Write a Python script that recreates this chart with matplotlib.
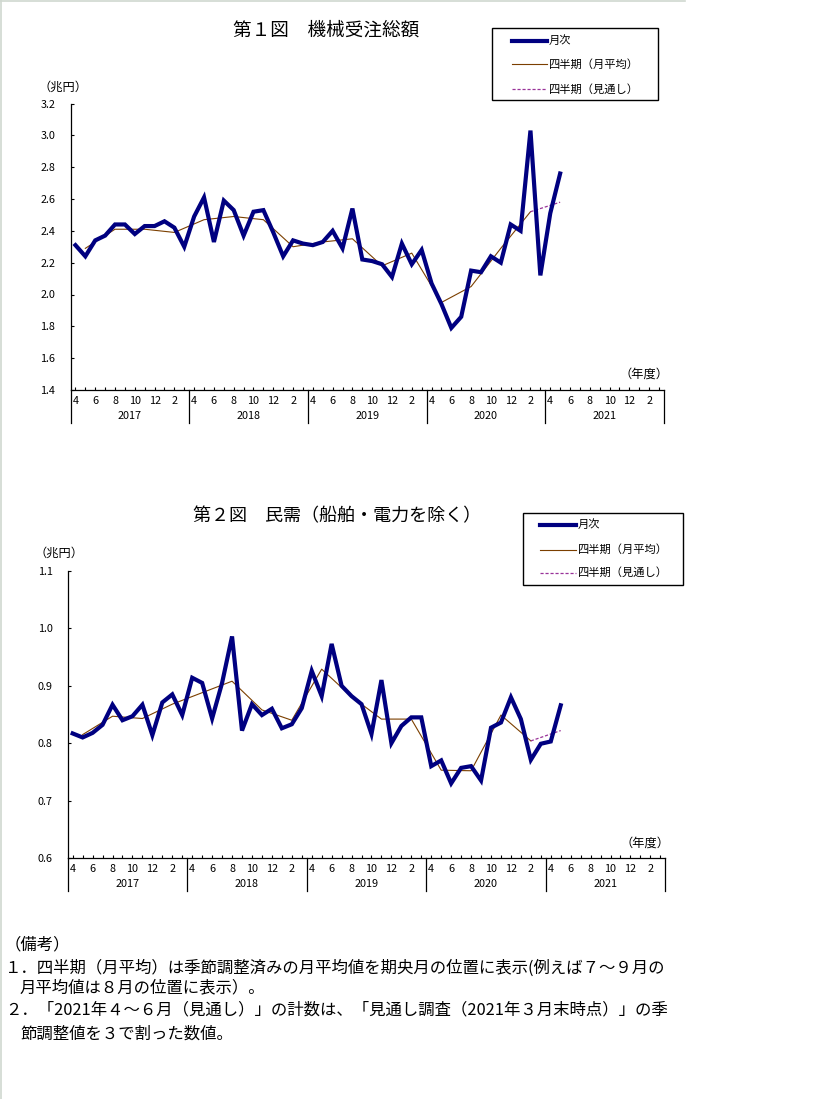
import matplotlib
matplotlib.use("Agg")
import matplotlib.pyplot as plt
import numpy as np
from matplotlib.lines import Line2D
from matplotlib.patches import Rectangle

plt.rcParams['font.family'] = ['Noto Sans CJK JP', 'DejaVu Sans']

# ---------------- data ----------------
fiscal_years = ['2017', '2018', '2019', '2020', '2021']
month_labels = ['4', '5', '6', '7', '8', '9', '10', '11', '12', '1', '2', '3']

# Chart 1: 機械受注総額 (兆円), monthly Apr 2017 - May 2021
monthly1 = [2.31, 2.24, 2.34, 2.37, 2.44, 2.44, 2.38, 2.43, 2.43, 2.46, 2.42, 2.30,
            2.49, 2.61, 2.33, 2.59, 2.53, 2.37, 2.52, 2.53, 2.39, 2.24, 2.34, 2.32,
            2.31, 2.33, 2.40, 2.29, 2.54, 2.22, 2.21, 2.19, 2.11, 2.32, 2.19, 2.28,
            2.07, 1.94, 1.79, 1.86, 2.15, 2.14, 2.24, 2.20, 2.44, 2.40, 3.03, 2.12,
            2.51, 2.76]
# quarterly monthly average, plotted at mid-month (May, Aug, Nov, Feb)
quarter1 = [2.29, 2.41, 2.41, 2.39, 2.47, 2.49, 2.47, 2.30,
            2.33, 2.35, 2.18, 2.26, 1.95, 2.05, 2.29, 2.52]
forecast1 = [2.52, 2.58]   # Feb 2021 -> May 2021 (見通し)

# Chart 2: 民需（船舶・電力を除く） (兆円)
monthly2 = [0.817, 0.810, 0.818, 0.832, 0.867, 0.840, 0.847, 0.867, 0.814, 0.871, 0.885, 0.849,
            0.914, 0.905, 0.843, 0.905, 0.986, 0.822, 0.868, 0.849, 0.860, 0.826, 0.833, 0.861,
            0.926, 0.882, 0.973, 0.900, 0.882, 0.868, 0.816, 0.910, 0.800, 0.830, 0.845, 0.845,
            0.760, 0.770, 0.730, 0.757, 0.760, 0.735, 0.827, 0.836, 0.880, 0.842, 0.771, 0.799,
            0.803, 0.866]
quarter2 = [0.815, 0.847, 0.843, 0.868, 0.888, 0.908, 0.858, 0.840,
            0.929, 0.881, 0.842, 0.842, 0.753, 0.752, 0.849, 0.804]
forecast2 = [0.804, 0.822]

legend_labels = ['月次', '四半期（月平均）', '四半期（見通し）']

NAVY = '#000080'
BROWN = '#7B3F00'
PURPLE = '#993399'

W, H = 819, 1099
fig = plt.figure(figsize=(W / 100, H / 100), dpi=100)


def fx(x):
    return x / W


def fy(y):
    return 1 - y / H


def axes_px(left, top, right, bottom):
    return fig.add_axes([fx(left), fy(bottom), (right - left) / W, (bottom - top) / H])


n_months = len(fiscal_years) * 12


def draw_chart(ax, monthly, quarter, forecast, ylim, ystep, ax_h_px):
    x_m = np.arange(len(monthly))
    x_q = np.arange(1, 1 + 3 * len(quarter), 3)
    x_f = [x_q[-1], x_q[-1] + 3]
    ax.plot(x_q, quarter, color=BROWN, lw=0.8, zorder=2)
    ax.plot(x_f, forecast, color=PURPLE, lw=0.9, ls=(0, (2.5, 1.5)), zorder=2)
    ax.plot(x_m, monthly, color=NAVY, lw=3.0, zorder=3, solid_joinstyle='miter')

    ax.set_xlim(-0.5, n_months - 0.5)
    ax.set_ylim(*ylim)
    yt = np.arange(ylim[0], ylim[1] + ystep / 2, ystep)
    ax.set_yticks(yt)
    ax.set_yticklabels([f'{v:.1f}' for v in yt])
    ax.set_xticks(np.arange(n_months))
    labs = []
    for i in range(n_months):
        m = month_labels[i % 12]
        labs.append(m if i % 2 == 0 else '')
    ax.set_xticklabels(labs)

    for s in ['top', 'right']:
        ax.spines[s].set_visible(False)
    for s in ['left', 'bottom']:
        ax.spines[s].set_linewidth(0.9)
    ax.tick_params(axis='y', direction='in', length=2.5, width=0.8, pad=11,
                   labelsize=7.8)
    ax.tick_params(axis='x', direction='in', length=2.2, width=0.8, pad=4,
                   labelsize=7.8)

    sep = 33 / ax_h_px
    for k in range(len(fiscal_years) + 1):
        ax.axvline(-0.5 + 12 * k, ymin=-sep, ymax=0, color='black', lw=0.9,
                   clip_on=False)
    trans = ax.get_xaxis_transform()
    for k, fyr in enumerate(fiscal_years):
        ax.text(12 * k + 5.5, -26 / ax_h_px, fyr, transform=trans, ha='center',
                va='center', fontsize=7.8)


def draw_legend(left, top, right, bottom, line_x0, line_x1, text_x, rows):
    fig.patches.append(Rectangle((fx(left), fy(bottom)), (right - left) / W,
                                 (bottom - top) / H, transform=fig.transFigure,
                                 fill=False, edgecolor='black', lw=1.0))
    styles = [dict(color=NAVY, lw=3.0), dict(color=BROWN, lw=0.8),
              dict(color=PURPLE, lw=0.9, ls=(0, (2.5, 1.5)))]
    for r, st, lab in zip(rows, styles, legend_labels):
        fig.lines.append(Line2D([fx(line_x0), fx(line_x1)], [fy(r), fy(r)],
                                transform=fig.transFigure, **st))
        fig.text(fx(text_x), fy(r), lab, ha='left', va='center', fontsize=8.1)


# ---------------- chart 1 ----------------
ax1 = axes_px(70.5, 103.5, 664, 390)
draw_chart(ax1, monthly1, quarter1, forecast1, (1.4, 3.2), 0.2, 390 - 103.5)
fig.text(fx(326.5), fy(31), '第１図　機械受注総額', ha='center', va='center',
         fontsize=13.4)
fig.text(fx(63), fy(87), '（兆円）', ha='center', va='center', fontsize=8.8)
fig.text(fx(643.5), fy(374), '（年度）', ha='center', va='center', fontsize=8.8)
draw_legend(491.7, 28.3, 658.3, 100, 512, 547, 549, [40.7, 64.3, 89.3])

# ---------------- chart 2 ----------------
ax2 = axes_px(67.7, 571, 665.3, 858)
draw_chart(ax2, monthly2, quarter2, forecast2, (0.6, 1.1), 0.1, 858 - 571)
fig.text(fx(337), fy(516), '第２図　民需（船舶・電力を除く）', ha='center', va='center',
         fontsize=13.0)
fig.text(fx(59), fy(553), '（兆円）', ha='center', va='center', fontsize=8.8)
fig.text(fx(645), fy(843), '（年度）', ha='center', va='center', fontsize=8.8)
draw_legend(523.3, 513.3, 683.3, 585.3, 540, 576, 578, [524.7, 549.5, 573])

# ---------------- notes ----------------
notes = [
    (5, 945, '（備考）'),
    (5, 968, '１．四半期（月平均）は季節調整済みの月平均値を期央月の位置に表示(例えば７～９月の'),
    (20, 988, '月平均値は８月の位置に表示）。'),
    (5, 1010, '２．「2021年４～６月（見通し）」の計数は、「見通し調査（2021年３月末時点）」の季'),
    (20, 1034, '節調整値を３で割った数値。'),
]
for x, y, t in notes:
    fig.text(fx(x), fy(y), t, ha='left', va='center', fontsize=11.8)

# faint page border
border = '#d0d8d0'
fig.lines.append(Line2D([fx(0.5), fx(0.5)], [0, 1], transform=fig.transFigure,
                        color=border, lw=1.2))
fig.lines.append(Line2D([0, fx(685)], [fy(0.5), fy(0.5)], transform=fig.transFigure,
                        color=border, lw=1.2))

fig.savefig('out.png', dpi=100, facecolor='white')
